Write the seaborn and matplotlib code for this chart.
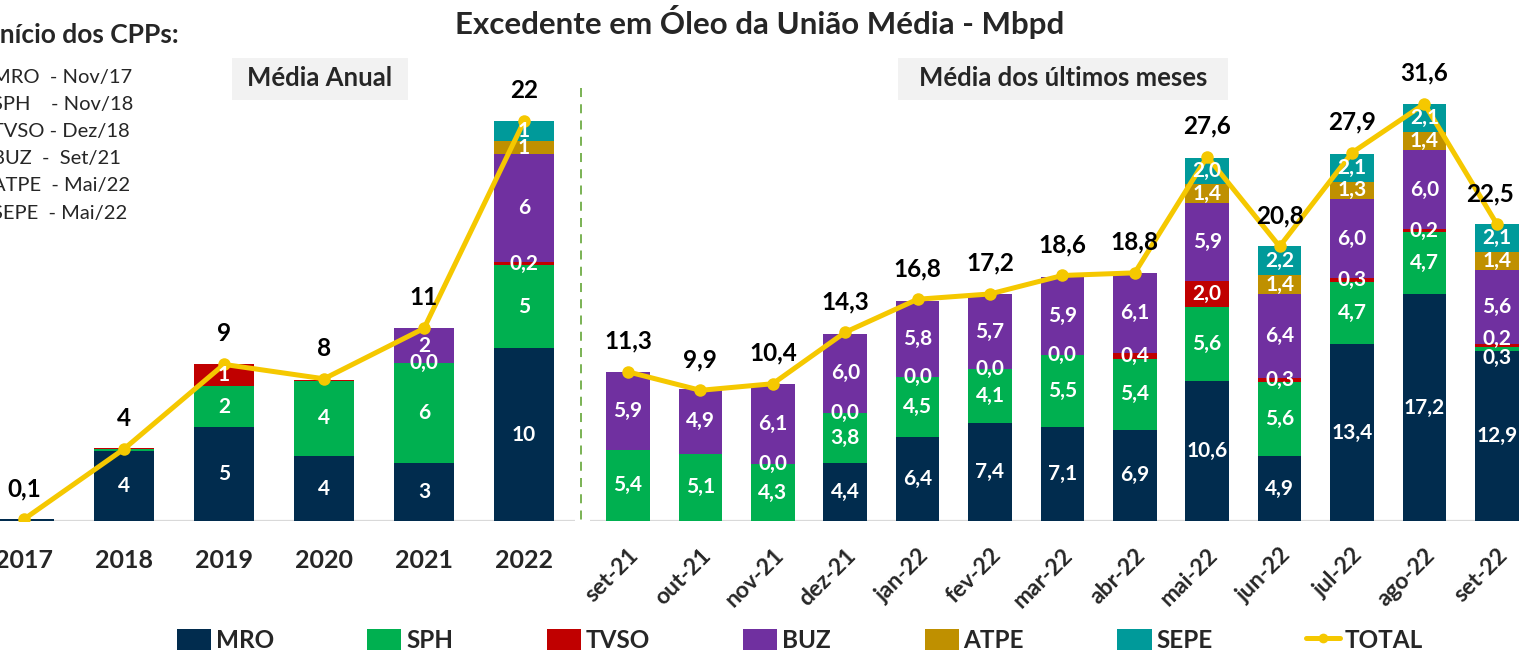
import numpy as np
import matplotlib
matplotlib.use("Agg")
import matplotlib.pyplot as plt
from matplotlib.patches import Patch, Rectangle
from matplotlib.lines import Line2D
import seaborn as sns

# ================= DATA =================
SERIES = ['MRO', 'SPH', 'TVSO', 'BUZ', 'ATPE', 'SEPE']
COLORS = ['#012c4e', '#00b050', '#c00000', '#7030a0', '#bf9000', '#009a9a']
LINE_COLOR = '#f5c800'

years = ['2017', '2018', '2019', '2020', '2021', '2022']
year_mro = [0.1, 3.9, 5.2, 3.6, 3.2, 9.6]
year_sph = [np.nan, 0.1, 2.3, 4.2, 5.6, 4.6]
year_tvso = [np.nan, 0.05, 1.2, 0.05, 0.0, 0.2]
year_buz = [np.nan, np.nan, np.nan, np.nan, 1.9, 6.0]
year_atpe = [np.nan, np.nan, np.nan, np.nan, np.nan, 0.7]
year_sepe = [np.nan, np.nan, np.nan, np.nan, np.nan, 1.1]
year_total = [0.1, 4.0, 8.7, 7.9, 10.7, 22.2]

months = ['set-21', 'out-21', 'nov-21', 'dez-21', 'jan-22', 'fev-22', 'mar-22',
          'abr-22', 'mai-22', 'jun-22', 'jul-22', 'ago-22', 'set-22']
month_mro = [np.nan, np.nan, np.nan, 4.4, 6.4, 7.4, 7.1, 6.9, 10.6, 4.9, 13.4, 17.2, 12.9]
month_sph = [5.4, 5.1, 4.3, 3.8, 4.5, 4.1, 5.5, 5.4, 5.6, 5.6, 4.7, 4.7, 0.3]
month_tvso = [np.nan, np.nan, 0.0, 0.0, 0.0, 0.0, 0.0, 0.4, 2.0, 0.3, 0.3, 0.2, 0.2]
month_buz = [5.9, 4.9, 6.1, 6.0, 5.8, 5.7, 5.9, 6.1, 5.9, 6.4, 6.0, 6.0, 5.6]
month_atpe = [np.nan] * 8 + [1.4, 1.4, 1.3, 1.4, 1.4]
month_sepe = [np.nan] * 8 + [2.0, 2.2, 2.1, 2.1, 2.1]
month_total = [11.3, 9.9, 10.4, 14.3, 16.8, 17.2, 18.6, 18.8, 27.6, 20.8, 27.9, 31.6, 22.5]

cpp_lines = ['MRO  - Nov/17', 'SPH    - Nov/18', 'TVSO - Dez/18',
             'BUZ  -  Set/21', 'ATPE  - Mai/22', 'SEPE  - Mai/22']

# ================= STYLE =================
sns.set_theme(style='white')
plt.rcParams['font.family'] = ['Lato', 'DejaVu Sans']

W, H = 1519, 658


def fx(px):
    return px / W


def fy(py):
    return 1 - py / H


def fmt_year(v):
    s = f"{v:.1f}" if v < 0.5 else f"{v:.0f}"
    return s.replace('.', ',')


def fmt_month(v):
    return f"{v:.1f}".replace('.', ',')


def draw_stack(ax, cats, layers, totals, fmt, nudge=None, total_shift=None):
    data = np.array(layers, dtype=float)
    cum = np.nancumsum(data, axis=0)
    n = len(cats)
    # draw from the top layer down so each lower layer covers the one above
    for k in range(len(layers) - 1, -1, -1):
        h = np.where(np.isnan(data[k]), np.nan, cum[k])
        sns.barplot(x=list(cats), y=h, order=list(cats), color=COLORS[k],
                    saturation=1, width=0.6, errorbar=None, linewidth=0, ax=ax)
    for k in range(len(layers)):
        for i in range(n):
            v = data[k, i]
            if np.isnan(v) or (0 < v < 0.15):
                continue
            dy = 0
            if nudge and (i, k) in nudge:
                dy = nudge[(i, k)]
            ax.annotate(fmt(v), (i, cum[k, i] - v / 2), xytext=(0, dy),
                        textcoords='offset points', ha='center', va='center',
                        color='white', fontsize=15, fontweight='bold')
    x = np.arange(n)
    sns.lineplot(x=x, y=totals, color=LINE_COLOR, lw=3.6, marker='o',
                 markersize=9, markeredgewidth=0, ax=ax)
    for i in range(n):
        dx = total_shift.get(i, 0) if total_shift else 0
        ax.annotate(fmt(totals[i]), (i, totals[i]), xytext=(dx, 22),
                    textcoords='offset points', ha='center', va='center',
                    color='black', fontsize=17.5, fontweight='bold')
    ax.axhline(0, color='#d9d9d9', lw=1.6, zorder=0)
    sns.despine(ax=ax, left=True, bottom=True)
    ax.set_yticks([])
    ax.set_xlabel('')
    ax.set_ylabel('')
    ax.set_facecolor('none')


# ================= FIGURE =================
fig = plt.figure(figsize=(W / 100, H / 100), dpi=100)

ax1 = fig.add_axes([0, fy(521), fx(575), (521 - 60) / H])
draw_stack(ax1, years, [year_mro, year_sph, year_tvso, year_buz, year_atpe, year_sepe],
           year_total, fmt_year)
ax1.set_xlim(-0.24, 5.51)
ax1.set_ylim(0, 461 / 18)
ax1.set_xticks(range(len(years)))
ax1.set_xticklabels(years, fontsize=18, fontweight='bold')
ax1.tick_params(axis='x', length=0, pad=20)

ax2 = fig.add_axes([fx(590), fy(521), fx(929), (521 - 60) / H])
draw_stack(ax2, months, [month_mro, month_sph, month_tvso, month_buz, month_atpe, month_sepe],
           month_total, fmt_month, nudge={(12, 1): -7, (12, 2): 5},
           total_shift={12: -5})
ax2.set_xlim((590 - 628) / 72.4, (1519 - 628) / 72.4)
ax2.set_ylim(0, 461 / 13.2)
ax2.set_xticks(range(len(months)))
ax2.set_xticklabels(months, fontsize=16.5, fontweight='bold', rotation=45,
                    ha='right', va='top', rotation_mode='anchor')
ax2.tick_params(axis='x', length=0, pad=17)

# separator between the panels
fig.add_artist(Line2D([fx(581), fx(581)], [fy(88), fy(526)], color='#70ad47',
                      lw=1.3, ls=(0, (5, 4))))

# ================= TEXTS =================
fig.text(fx(760), fy(22), 'Excedente em Óleo da União Média - Mbpd',
         ha='center', va='center', fontsize=22.5, fontweight='bold')

for x0, x1, label in [(232, 408, 'Média Anual'), (898, 1228, 'Média dos últimos meses')]:
    fig.add_artist(Rectangle((fx(x0), fy(100)), fx(x1 - x0), 42 / H,
                             facecolor='#f2f2f2', edgecolor='none', transform=fig.transFigure))
    fig.text(fx((x0 + x1) / 2), fy(78), label, ha='center', va='center',
             fontsize=18.5, fontweight='bold')

fig.text(fx(-8), fy(35), 'Início dos CPPs:', ha='left', va='center',
         fontsize=19, fontweight='bold')
for j, line in enumerate(cpp_lines):
    fig.text(fx(-8), fy(77 + 27.2 * j), line, ha='left', va='center', fontsize=14.5)

# ================= LEGEND =================
handles = [Patch(facecolor=c, edgecolor='none') for c in COLORS]
handles.append(Line2D([0], [0], color=LINE_COLOR, lw=3.6, marker='o',
                      markersize=7, markeredgewidth=0))
fig.legend(handles, SERIES + ['TOTAL'], loc='center', bbox_to_anchor=(fx(800), fy(640)),
           ncol=7, frameon=False, prop={'weight': 'bold', 'size': 17.5},
           handlelength=1.4, handleheight=0.95, handletextpad=0.2, columnspacing=3.85)

fig.savefig('out.png', dpi=100)
